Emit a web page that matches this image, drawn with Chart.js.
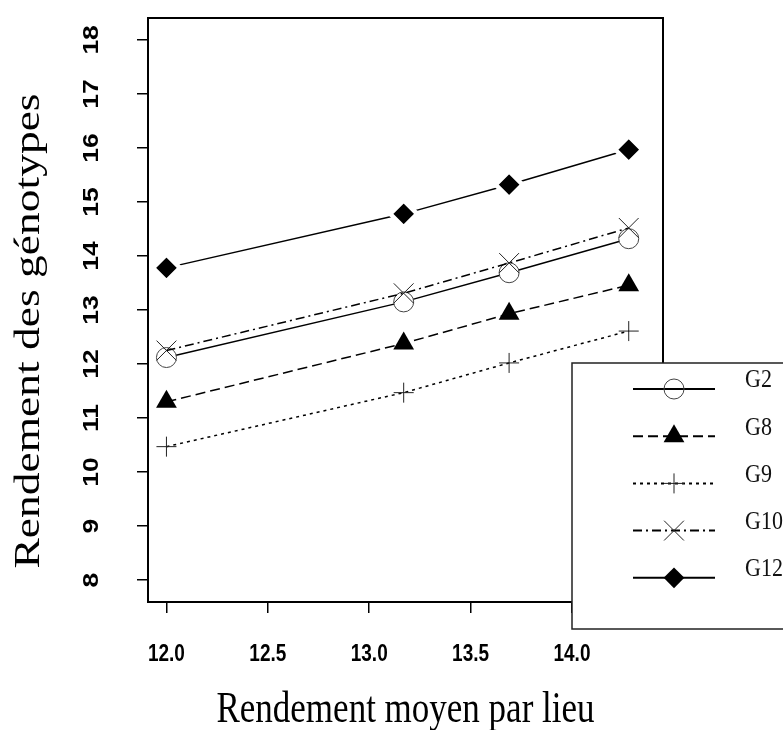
<!DOCTYPE html>
<html>
<head>
<meta charset="utf-8">
<script src="https://cdn.jsdelivr.net/npm/chart.js@4.4.1/dist/chart.umd.min.js"></script>
<style>
  html, body { margin: 0; padding: 0; background: #fff; }
  #wrap { width: 783px; height: 730px; }
</style>
</head>
<body>
<div id="wrap"><canvas id="chart" width="783" height="730"></canvas></div>
<script>
// rendement moyen par lieu (axe x) et rendement des génotypes
const lieux = [12.0, 13.17, 13.69, 14.28];
const g2 = [12.12, 13.15, 13.69, 14.32];
const g8 = [11.30, 12.38, 12.93, 13.46];
const g9 = [10.47, 11.47, 12.02, 12.61];
const g10 = [12.25, 13.31, 13.87, 14.52];
const g12 = [13.78, 14.78, 15.32, 15.97];
const genotypes = ['G2', 'G8', 'G9', 'G10', 'G12'];
const xTicks = [12.0, 12.5, 13.0, 13.5, 14.0];
const yTicks = [8, 9, 10, 11, 12, 13, 14, 15, 16, 17, 18];

const serif = "'Liberation Serif', 'Times New Roman', serif";
const sans = "'Liberation Sans', Arial, sans-serif";

function serie(label, values, style) {
  return Object.assign({
    label: label,
    data: values.map((v, i) => ({ x: lieux[i], y: v })),
    showLine: true,
    borderColor: '#000',
    borderWidth: 1.5,
    order: 0
  }, style);
}

const datasets = [
  serie(genotypes[0], g2, { pointStyle: 'circle', pointRadius: 10, pointBackgroundColor: '#fff', pointBorderColor: '#444', pointBorderWidth: 1, order: 5 }),
  serie(genotypes[1], g8, { borderDash: [10, 5], pointStyle: 'triangle', pointRadius: 12, pointBackgroundColor: '#000', pointBorderColor: '#000', pointBorderWidth: 0 }),
  serie(genotypes[2], g9, { borderDash: [3, 4], pointStyle: 'cross', pointRadius: 10, pointBorderColor: '#222', pointBorderWidth: 1 }),
  serie(genotypes[3], g10, { borderDash: [9, 4, 2, 4], pointStyle: 'crossRot', pointRadius: 14, pointBorderColor: '#222', pointBorderWidth: 1 }),
  serie(genotypes[4], g12, { pointStyle: 'rectRot', pointRadius: 13.5, pointBackgroundColor: '#000', pointBorderColor: '#fff', pointBorderWidth: 4.5 })
];

// texte étiré verticalement (k), éventuellement tourné
function text(ctx, str, x, y, font, vertical, k) {
  ctx.save();
  ctx.translate(x, y);
  ctx.scale(1, k);
  if (vertical) ctx.rotate(-Math.PI / 2);
  ctx.font = font;
  ctx.fillText(str, 0, 0);
  ctx.restore();
}

const decor = {
  id: 'decor',
  afterDraw(chart) {
    const ctx = chart.ctx;
    const area = chart.chartArea;
    const xs = chart.scales.x, ys = chart.scales.y;
    ctx.save();

    // cadre du graphique
    ctx.strokeStyle = '#000';
    ctx.lineWidth = 2;
    ctx.strokeRect(area.left, area.top, area.right - area.left, area.bottom - area.top);

    // étiquettes des axes
    ctx.fillStyle = '#000';
    ctx.textAlign = 'center';
    ctx.textBaseline = 'middle';
    xTicks.forEach(v => text(ctx, v.toFixed(1), xs.getPixelForValue(v), 654, 'bold 19px ' + sans, false, 1.25));
    yTicks.forEach(v => text(ctx, String(v), 92, ys.getPixelForValue(v), 'bold 22px ' + sans, true, 1.2));

    // titres
    text(ctx, 'Rendement moyen par lieu', (area.left + area.right) / 2, 711, '35px ' + serif, false, 1.25);
    text(ctx, 'Rendement des génotypes', 30, 331, '35px ' + serif, true, 1.3);

    // légende
    const lx = 572, ly = 363;
    ctx.fillStyle = '#fff';
    ctx.fillRect(lx, ly, 260, 266);
    ctx.strokeStyle = '#222';
    ctx.lineWidth = 1.5;
    ctx.strokeRect(lx, ly, 260, 266);
    chart.data.datasets.forEach((ds, i) => {
      const y = 389 + i * 47.2;
      ctx.strokeStyle = '#000';
      ctx.lineWidth = 2;
      ctx.setLineDash(ds.borderDash || []);
      ctx.beginPath();
      ctx.moveTo(633, y);
      ctx.lineTo(715, y);
      ctx.stroke();
      ctx.setLineDash([]);
      const halo = ds.pointBorderColor === '#fff';
      const radius = halo ? ds.pointRadius - ds.pointBorderWidth * 0.7 : ds.pointRadius;
      ctx.fillStyle = ds.pointBackgroundColor === '#fff' ? 'rgba(0,0,0,0)' : (ds.pointBackgroundColor || '#000');
      ctx.strokeStyle = ds.pointBorderColor;
      ctx.lineWidth = ds.pointBorderWidth;
      Chart.helpers.drawPoint(ctx, {
        pointStyle: ds.pointStyle, radius: radius, rotation: 0, borderWidth: halo ? 0 : ds.pointBorderWidth
      }, 674, y);
      ctx.fillStyle = '#111';
      ctx.textAlign = 'left';
      text(ctx, ds.label, 745, y - 8, '22px ' + serif, false, 1.1);
    });
    ctx.restore();
  }
};

new Chart(document.getElementById('chart'), {
  type: 'scatter',
  data: { datasets: datasets },
  options: {
    responsive: false,
    animation: false,
    events: [],
    layout: { padding: { left: 0, top: 16, right: 120, bottom: 0 } },
    plugins: { legend: { display: false }, tooltip: { enabled: false } },
    scales: {
      x: {
        type: 'linear', min: 11.909, max: 14.449,
        afterBuildTicks: s => { s.ticks = xTicks.map(v => ({ value: v })); },
        afterFit: s => { s.height = 128; },
        ticks: { display: false },
        border: { display: false },
        grid: { display: true, drawOnChartArea: false, drawTicks: true, tickLength: 11, color: '#000', lineWidth: 1.5 }
      },
      y: {
        type: 'linear', min: 7.594, max: 18.406,
        afterBuildTicks: s => { s.ticks = yTicks.map(v => ({ value: v })); },
        afterFit: s => { s.width = 148; },
        ticks: { display: false },
        border: { display: false },
        grid: { display: true, drawOnChartArea: false, drawTicks: true, tickLength: 11, color: '#000', lineWidth: 1.5 }
      }
    }
  },
  plugins: [decor]
});
</script>
</body>
</html>
